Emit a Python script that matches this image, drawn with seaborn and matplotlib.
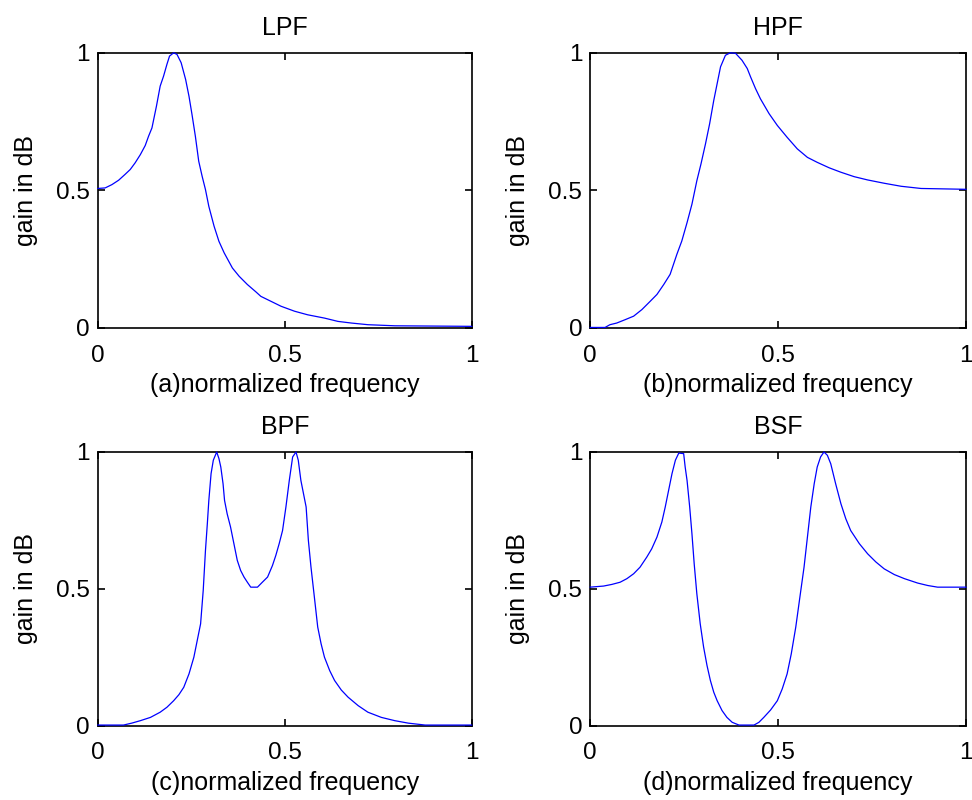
import numpy as np
import pandas as pd
import matplotlib
matplotlib.use("Agg")
import matplotlib.pyplot as plt
import seaborn as sns

# values (normalized frequency, gain)
lpf_x = [0, 0.02, 0.038, 0.056, 0.073, 0.087, 0.1, 0.114, 0.127, 0.136,
         0.145, 0.157, 0.167, 0.176, 0.185, 0.192, 0.203, 0.212, 0.223, 0.235,
         0.244, 0.252, 0.261, 0.27, 0.279, 0.288, 0.297, 0.311, 0.324, 0.338,
         0.36, 0.378, 0.4, 0.423, 0.436, 0.463, 0.49, 0.526, 0.561, 0.606,
         0.642, 0.678, 0.722, 0.794, 1.0]
lpf_y = [0.507, 0.509, 0.521, 0.537, 0.558, 0.576, 0.6, 0.63, 0.663, 0.697,
         0.727, 0.806, 0.879, 0.915, 0.958, 0.988, 1.0, 0.994, 0.964, 0.903,
         0.842, 0.776, 0.697, 0.606, 0.552, 0.503, 0.442, 0.37, 0.315, 0.273,
         0.218, 0.188, 0.158, 0.131, 0.115, 0.097, 0.079, 0.061, 0.048, 0.036,
         0.024, 0.018, 0.012, 0.008, 0.006]

hpf_x = [0, 0.04, 0.053, 0.071, 0.093, 0.116, 0.138, 0.16, 0.178, 0.196,
         0.213, 0.231, 0.244, 0.258, 0.271, 0.284, 0.295, 0.307, 0.318, 0.329,
         0.338, 0.347, 0.36, 0.373, 0.387, 0.404, 0.418, 0.427, 0.44, 0.453,
         0.476, 0.498, 0.524, 0.551, 0.578, 0.604, 0.636, 0.667, 0.702, 0.738,
         0.782, 0.827, 0.88, 1.0]
hpf_y = [0.002, 0.002, 0.012, 0.018, 0.03, 0.043, 0.067, 0.097, 0.122, 0.158,
         0.195, 0.268, 0.316, 0.383, 0.45, 0.535, 0.596, 0.669, 0.742, 0.827,
         0.888, 0.949, 0.991, 1.0, 0.998, 0.973, 0.943, 0.912, 0.87, 0.833,
         0.779, 0.736, 0.693, 0.651, 0.62, 0.602, 0.582, 0.566, 0.55, 0.538,
         0.526, 0.515, 0.507, 0.504]

bpf_x = [0, 0.069, 0.091, 0.114, 0.141, 0.167, 0.185, 0.203, 0.217, 0.23,
         0.244, 0.257, 0.266, 0.275, 0.282, 0.288, 0.293, 0.297, 0.303, 0.309,
         0.318, 0.324, 0.329, 0.335, 0.339, 0.346, 0.355, 0.364, 0.373, 0.382,
         0.391, 0.4, 0.409, 0.427, 0.44, 0.454, 0.467, 0.476, 0.485, 0.494,
         0.503, 0.512, 0.521, 0.53, 0.536, 0.543, 0.557, 0.563, 0.57, 0.579,
         0.588, 0.597, 0.606, 0.62, 0.633, 0.651, 0.669, 0.696, 0.722, 0.758,
         0.794, 0.83, 0.875, 1.0]
bpf_y = [0.002, 0.002, 0.009, 0.018, 0.03, 0.049, 0.067, 0.091, 0.113, 0.14,
         0.189, 0.25, 0.311, 0.372, 0.494, 0.64, 0.738, 0.823, 0.921, 0.97,
         1.0, 0.976, 0.945, 0.884, 0.823, 0.774, 0.726, 0.665, 0.604, 0.567,
         0.543, 0.524, 0.506, 0.506, 0.524, 0.543, 0.585, 0.622, 0.665, 0.713,
         0.799, 0.896, 0.982, 1.0, 0.97, 0.896, 0.799, 0.677, 0.579, 0.47,
         0.36, 0.299, 0.25, 0.201, 0.165, 0.13, 0.104, 0.073, 0.049, 0.03,
         0.018, 0.009, 0.002, 0.002]

bsf_x = [0, 0.036, 0.058, 0.08, 0.098, 0.116, 0.133, 0.151, 0.164, 0.178,
         0.191, 0.2, 0.209, 0.218, 0.227, 0.236, 0.249, 0.253, 0.258, 0.265,
         0.271, 0.277, 0.284, 0.293, 0.302, 0.311, 0.32, 0.329, 0.338, 0.351,
         0.364, 0.378, 0.396, 0.436, 0.449, 0.462, 0.48, 0.498, 0.511, 0.524,
         0.535, 0.547, 0.558, 0.569, 0.578, 0.587, 0.596, 0.604, 0.613, 0.622,
         0.631, 0.64, 0.653, 0.667, 0.68, 0.693, 0.716, 0.738, 0.76, 0.782,
         0.809, 0.836, 0.871, 0.898, 0.924, 1.0]
bsf_y = [0.506, 0.51, 0.516, 0.524, 0.537, 0.555, 0.579, 0.616, 0.646, 0.689,
         0.744, 0.799, 0.86, 0.921, 0.97, 0.996, 0.994, 0.945, 0.896, 0.799,
         0.701, 0.591, 0.482, 0.372, 0.287, 0.22, 0.165, 0.122, 0.091, 0.055,
         0.03, 0.012, 0.002, 0.002, 0.012, 0.03, 0.057, 0.091, 0.134, 0.189,
         0.262, 0.36, 0.47, 0.579, 0.689, 0.799, 0.884, 0.945, 0.982, 1.0,
         0.988, 0.957, 0.884, 0.811, 0.756, 0.713, 0.665, 0.628, 0.598, 0.573,
         0.552, 0.537, 0.521, 0.512, 0.506, 0.506]

titles = ["LPF", "HPF", "BPF", "BSF"]
xlabels = ["(a)normalized frequency", "(b)normalized frequency",
           "(c)normalized frequency", "(d)normalized frequency"]
ticks = [0, 0.5, 1]
tick_labels = ["0", "0.5", "1"]

sns.set_style("white")
plt.rcParams['font.family'] = ['Liberation Sans', 'DejaVu Sans']
plt.rcParams['text.color'] = 'black'
plt.rcParams['axes.labelcolor'] = 'black'

fig = plt.figure(figsize=(9.72, 8), dpi=100)
positions = [[0.1005, 0.59, 0.385, 0.344], [0.607, 0.59, 0.387, 0.344],
             [0.1005, 0.093, 0.385, 0.342], [0.607, 0.093, 0.387, 0.342]]
series = [(lpf_x, lpf_y), (hpf_x, hpf_y), (bpf_x, bpf_y), (bsf_x, bsf_y)]

for i in range(4):
    ax = fig.add_axes(positions[i])
    df = pd.DataFrame({"f": series[i][0], "g": series[i][1]})
    sns.lineplot(data=df, x="f", y="g", ax=ax, color="#0000ff", linewidth=0.9,
                 sort=False, estimator=None, zorder=3, clip_on=False)
    ax.set_xlim(0, 1)
    ax.set_ylim(0, 1)
    ax.set_xticks(ticks)
    ax.set_xticklabels(tick_labels)
    ax.set_yticks(ticks)
    ax.set_yticklabels(tick_labels)
    ax.tick_params(direction="in", length=5, width=1.2, top=True, right=True,
                   bottom=True, left=True, labelsize=17.5, colors="black")
    ax.tick_params(axis="x", pad=12)
    ax.tick_params(axis="y", pad=5.5)
    for s in ax.spines.values():
        s.set_visible(True)
        s.set_color("black")
        s.set_linewidth(1.2)
    ax.set_title(titles[i], fontsize=18, pad=13)
    ax.set_xlabel(xlabels[i], fontsize=18, labelpad=4.5)
    ax.set_ylabel("gain in dB", fontsize=18, labelpad=13)

plt.savefig("out.png", dpi=100)
